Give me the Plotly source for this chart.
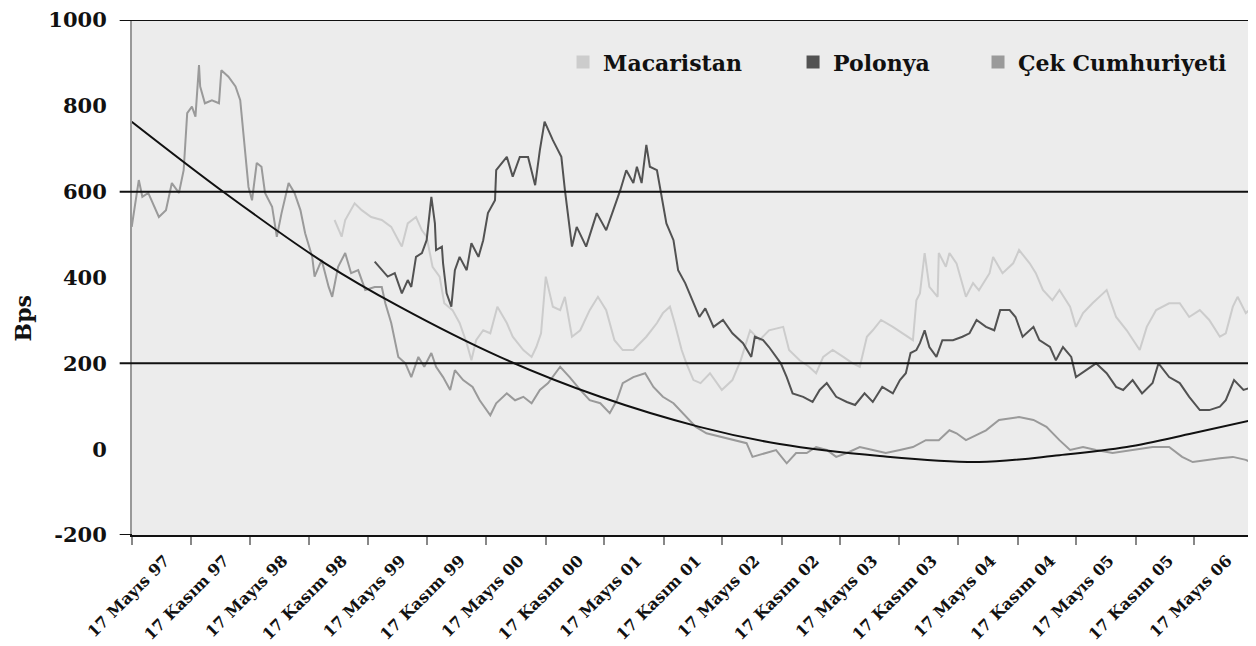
import plotly.graph_objects as go
from datetime import datetime, timedelta

# ---- data (time in decimal years, values in bps) ----
cek_t = [1997.37,1997.43,1997.46,1997.51,1997.60,1997.66,1997.71,1997.77,1997.81,1997.84,1997.88,1997.91,1997.94,1997.95,1997.99,
         1998.05,1998.11,1998.13,1998.19,1998.25,1998.29,1998.32,1998.36,1998.39,1998.43,1998.47,1998.50,1998.56,1998.60,1998.64,
         1998.70,1998.75,1998.80,1998.84,1998.90,1998.92,1998.98,1999.04,1999.07,1999.12,1999.18,1999.23,1999.29,1999.35,1999.43,
         1999.49,1999.52,1999.57,1999.63,1999.69,1999.74,1999.80,1999.85,1999.91,1999.95,2000.01,2000.07,2000.11,2000.18,2000.26,
         2000.32,2000.41,2000.46,2000.55,2000.62,2000.69,2000.76,2000.83,2000.90,2001.00,2001.08,2001.17,2001.25,2001.34,2001.42,
         2001.48,2001.53,2001.62,2001.72,2001.79,2001.87,2001.96,2002.04,2002.10,2002.15,2002.24,2002.35,2002.47,2002.58,2002.63,
         2002.75,2002.83,2002.92,2003.00,2003.09,2003.17,2003.26,2003.34,2003.43,2003.54,2003.65,2003.76,2003.88,2003.99,2004.10,
         2004.21,2004.30,2004.36,2004.44,2004.50,2004.55,2004.61,2004.72,2004.89,2005.01,2005.12,2005.23,2005.32,2005.43,2005.54,
         2005.68,2005.85,2006.02,2006.16,2006.27,2006.36,2006.47,2006.59,2006.70,2006.81,2006.87]
cek_v = [518,627,588,597,541,557,620,597,650,783,798,775,895,845,806,
         813,806,883,868,845,813,720,611,580,667,658,597,565,495,550,
         620,597,557,503,448,402,441,378,355,425,457,410,417,371,378,
         378,340,294,215,200,168,215,192,224,192,168,138,184,161,145,
         114,79,107,130,114,122,107,138,154,192,168,138,114,107,84,
         114,154,168,177,145,122,107,84,68,52,37,29,21,14,-18,
         -9,-2,-33,-9,-9,5,-2,-18,-9,5,-2,-9,-2,5,21,
         21,44,37,21,29,37,44,68,75,68,52,21,-2,5,-2,
         -9,-2,5,5,-18,-30,-25,-21,-18,-25,-33]

mac_t = [1999.09,1999.15,1999.18,1999.26,1999.32,1999.40,1999.49,1999.57,1999.63,1999.66,1999.71,1999.78,1999.83,1999.87,1999.92,
         1999.98,2000.02,2000.09,2000.15,2000.21,2000.25,2000.29,2000.35,2000.41,2000.47,2000.55,2000.60,2000.69,2000.76,2000.80,
         2000.84,2000.88,2000.94,2001.00,2001.04,2001.10,2001.17,2001.25,2001.32,2001.39,2001.46,2001.53,2001.62,2001.73,2001.82,
         2001.87,2001.93,2001.97,2002.03,2002.07,2002.13,2002.19,2002.27,2002.37,2002.46,2002.53,2002.61,2002.69,2002.77,2002.89,
         2002.94,2003.03,2003.11,2003.17,2003.23,2003.31,2003.40,2003.48,2003.54,2003.60,2003.65,2003.72,2003.82,2003.90,2003.99,
         2004.02,2004.05,2004.09,2004.13,2004.20,2004.21,2004.27,2004.30,2004.36,2004.44,2004.50,2004.55,2004.64,2004.67,2004.75,
         2004.84,2004.89,2004.98,2005.03,2005.09,2005.17,2005.23,2005.32,2005.37,2005.43,2005.51,2005.60,2005.63,2005.71,2005.80,
         2005.91,2005.97,2006.05,2006.16,2006.25,2006.33,2006.42,2006.50,2006.59,2006.64,2006.70,2006.74,2006.81,2006.87]
mac_v = [534,495,534,573,557,541,534,518,487,472,526,541,510,495,425,
         402,340,324,294,247,207,254,277,270,332,294,262,231,215,238,
         270,402,332,324,355,262,277,324,355,324,254,231,231,262,294,
         317,332,294,231,200,161,154,177,138,161,207,277,254,277,285,
         231,207,192,177,215,231,215,200,192,262,277,301,285,270,254,
         347,363,457,378,355,457,425,457,433,355,387,370,410,448,410,
         433,464,433,410,371,347,371,332,285,317,340,363,371,308,277,
         231,285,324,340,340,308,324,301,262,270,332,355,317,332]

pol_t = [1999.43,1999.49,1999.54,1999.60,1999.66,1999.71,1999.74,1999.78,1999.83,1999.87,1999.91,1999.94,1999.95,2000.00,2000.01,
         2000.04,2000.08,2000.11,2000.15,2000.21,2000.25,2000.31,2000.35,2000.39,2000.45,2000.46,2000.55,2000.60,2000.66,2000.73,
         2000.79,2000.83,2000.87,2000.94,2001.01,2001.04,2001.07,2001.10,2001.14,2001.22,2001.31,2001.39,2001.45,2001.51,2001.56,
         2001.62,2001.65,2001.69,2001.73,2001.76,2001.82,2001.86,2001.90,2001.96,2002.00,2002.06,2002.13,2002.18,2002.23,2002.30,
         2002.38,2002.46,2002.55,2002.62,2002.65,2002.72,2002.77,2002.83,2002.87,2002.92,2002.97,2003.06,2003.14,2003.20,2003.26,
         2003.34,2003.43,2003.50,2003.58,2003.65,2003.73,2003.82,2003.88,2003.93,2003.97,2004.02,2004.05,2004.09,2004.13,2004.19,
         2004.24,2004.33,2004.41,2004.47,2004.53,2004.61,2004.68,2004.73,2004.81,2004.86,2004.92,2005.01,2005.06,2005.15,2005.20,
         2005.26,2005.33,2005.37,2005.46,2005.54,2005.63,2005.71,2005.77,2005.85,2005.93,2006.02,2006.07,2006.16,2006.25,2006.33,
         2006.42,2006.50,2006.59,2006.64,2006.71,2006.79,2006.87]
pol_v = [437,417,402,410,363,394,378,448,457,487,588,526,464,472,433,
         363,332,417,448,417,480,448,487,550,580,650,681,635,681,681,
         615,697,763,720,681,604,534,472,518,472,550,510,557,604,650,
         620,658,620,709,658,650,588,526,487,417,387,340,308,328,285,
         301,270,247,215,262,254,238,215,200,168,130,122,110,138,154,
         122,110,103,130,110,145,130,161,177,224,231,247,277,238,215,
         254,254,262,270,301,285,277,324,324,308,262,285,254,238,207,
         238,215,168,184,200,177,145,138,161,130,154,200,168,154,122,
         91,91,99,114,161,138,145]

trend_t = [1997.37,1998.16,1999.01,1999.64,2000.49,2001.34,2002.18,2002.86,2003.71,2004.55,2005.23,2005.80,2006.36,2006.87]
trend_v = [763,597,433,332,215,122,52,12,-16,-30,-14,5,37,68]

series_names = ["Macaristan", "Polonya", "Çek Cumhuriyeti"]
series_colors = ["#cccccc", "#525252", "#9a9a9a"]

tick_dates = ["1997-05-17","1997-11-17","1998-05-17","1998-11-17","1999-05-17","1999-11-17","2000-05-17",
              "2000-11-17","2001-05-17","2001-11-17","2002-05-17","2002-11-17","2003-05-17","2003-11-17",
              "2004-05-17","2004-11-17","2005-05-17","2005-11-17","2006-05-17"]
tick_text = ["17 Mayıs 97","17 Kasım 97","17 Mayıs 98","17 Kasım 98","17 Mayıs 99","17 Kasım 99","17 Mayıs 00",
             "17 Kasım 00","17 Mayıs 01","17 Kasım 01","17 Mayıs 02","17 Kasım 02","17 Mayıs 03","17 Kasım 03",
             "17 Mayıs 04","17 Kasım 04","17 Mayıs 05","17 Kasım 05","17 Mayıs 06"]
y_ticks = [-200, 0, 200, 400, 600, 800, 1000]
y_tick_text = ["-200", "0", "200", "400", "600", "800", "1000"]
grid_vals = [200, 600, 1000]


def to_dates(ts):
    out = []
    for t in ts:
        y = int(t)
        start = datetime(y, 1, 1)
        out.append(start + timedelta(days=(t - y) * 365.25))
    return out


FONT = "DejaVu Serif"
fig = go.Figure()

fig.add_trace(go.Scatter(x=to_dates(cek_t), y=cek_v, mode="lines", line=dict(color=series_colors[2], width=2),
                         showlegend=False))
fig.add_trace(go.Scatter(x=to_dates(mac_t), y=mac_v, mode="lines", line=dict(color=series_colors[0], width=2),
                         showlegend=False))
fig.add_trace(go.Scatter(x=to_dates(pol_t), y=pol_v, mode="lines", line=dict(color=series_colors[1], width=2),
                         showlegend=False))
fig.add_trace(go.Scatter(x=to_dates(trend_t), y=trend_v, mode="lines",
                         line=dict(color="#111111", width=2, shape="spline", smoothing=1.0), showlegend=False))

# legend entries (square swatches)
legend_ids = ["legend", "legend2", "legend3"]
for name, col, lid in zip(series_names, series_colors, legend_ids):
    fig.add_trace(go.Scatter(x=[None], y=[None], mode="markers", name=name,
                             marker=dict(symbol="square", size=13, color=col), legend=lid))

leg_common = dict(orientation="h", yanchor="middle", y=0.918, xanchor="left", bgcolor="rgba(0,0,0,0)",
                  font=dict(family=FONT, size=22, color="#111111", weight="bold"))

shapes = []
for gv in grid_vals:
    shapes.append(dict(type="line", xref="paper", yref="y", x0=-0.011, x1=1, y0=gv, y1=gv,
                       line=dict(color="#111111", width=2)))
shapes.append(dict(type="line", xref="paper", yref="y", x0=-0.011, x1=0, y0=-200, y1=-200,
                   line=dict(color="#111111", width=2)))
shapes.append(dict(type="line", xref="paper", yref="paper", x0=1, x1=1, y0=0, y1=1,
                   line=dict(color="#999999", width=2)))

# page body has an 8px margin: figure is 1248x638 so that the plot sits where the reference has it
fig.update_layout(
    width=1248, height=638,
    margin=dict(l=124, r=3, t=12, b=111, autoexpand=False),
    paper_bgcolor="white", plot_bgcolor="#ececec",
    font=dict(family=FONT, color="#111111"),
    legend=dict(x=0.3845, **leg_common),
    legend2=dict(x=0.5897, **leg_common),
    legend3=dict(x=0.7547, **leg_common),
    shapes=shapes,
    annotations=[dict(text="Bps", xref="paper", yref="paper", x=-0.097, y=0.421, xanchor="center",
                      yanchor="middle", showarrow=False, textangle=-90,
                      font=dict(family=FONT, size=22, color="#111111", weight="bold"))],
    xaxis=dict(type="date", range=["1997-05-17", "2006-11-15"], tickvals=tick_dates, ticktext=tick_text,
               tickangle=-45, ticks="outside", ticklen=8, tickcolor="#888888", tickwidth=2,
               ticklabelshift=33, automargin=False, ticklabeloverflow="allow",
               showgrid=False, zeroline=False, showline=True, linecolor="#111111", linewidth=2,
               tickfont=dict(family=FONT, size=16, color="#111111", weight="bold")),
    yaxis=dict(range=[-200, 1000], tickvals=y_ticks, ticktext=y_tick_text, ticks="outside", ticklen=19,
               tickcolor="rgba(0,0,0,0)", automargin=False, ticklabeloverflow="allow",
               showgrid=False, zeroline=False, showline=True, linecolor="#999999", linewidth=2,
               tickfont=dict(family=FONT, size=21, color="#111111", weight="bold")),
)

fig.write_html("out.html")
